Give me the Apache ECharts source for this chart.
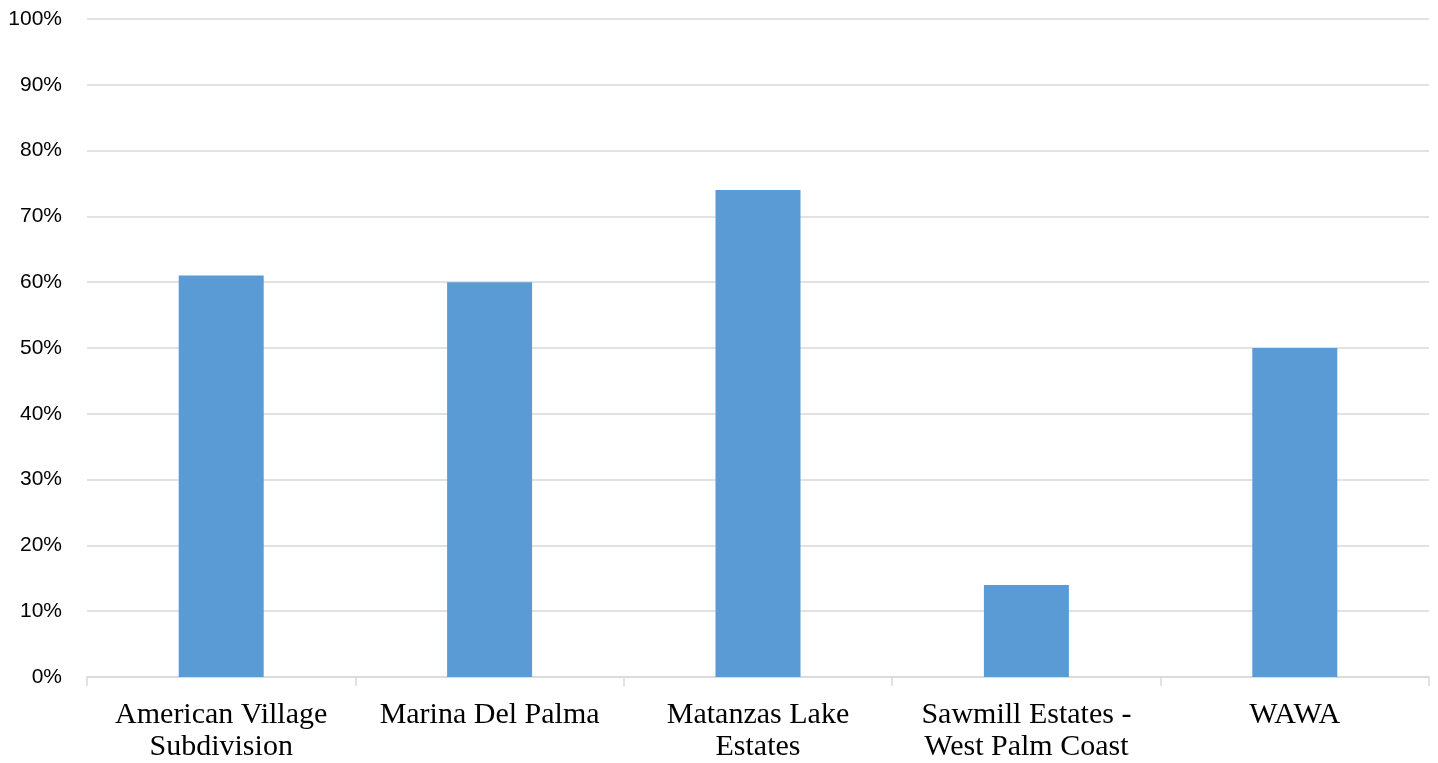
<!DOCTYPE html>
<html><head><meta charset="utf-8">
<script src="https://cdn.jsdelivr.net/npm/echarts@6/dist/echarts.min.js"></script>
<style>html,body{margin:0;padding:0;background:#fff}#c{width:1438px;height:763px}</style>
</head><body><div id="c"></div>
<script>
const categories = ["American Village\nSubdivision", "Marina Del Palma", "Matanzas Lake\nEstates", "Sawmill Estates -\nWest Palm Coast", "WAWA"];
const values = [61, 60, 74, 14, 50];
const yTicks = [0, 10, 20, 30, 40, 50, 60, 70, 80, 90, 100];

const chart = echarts.init(document.getElementById('c'));
chart.setOption({
  animation: false,
  grid: { left: 87, right: 9, top: 19, bottom: 83, containLabel: false },
  xAxis: {
    type: 'category',
    data: categories,
    axisLine: { lineStyle: { color: '#d9d9d9', width: 1.5 } },
    axisTick: { show: true, length: 9, alignWithLabel: false, lineStyle: { color: '#d9d9d9', width: 1.5 } },
    axisLabel: { interval: 0, color: '#000', fontFamily: 'Liberation Serif, serif', fontSize: 30, lineHeight: 32, margin: 22 }
  },
  yAxis: {
    type: 'value', min: yTicks[0], max: yTicks[yTicks.length - 1], interval: 10,
    axisLine: { show: false }, axisTick: { show: false },
    splitLine: { lineStyle: { color: '#d9d9d9', width: 1.5 } },
    axisLabel: { formatter: '{value}%', color: '#000', fontFamily: 'Liberation Sans, sans-serif', fontSize: 21, margin: 25 }
  },
  series: [{
    type: 'bar', data: values, barWidth: 85,
    itemStyle: { color: '#5B9BD5' }
  }]
});
</script></body></html>
